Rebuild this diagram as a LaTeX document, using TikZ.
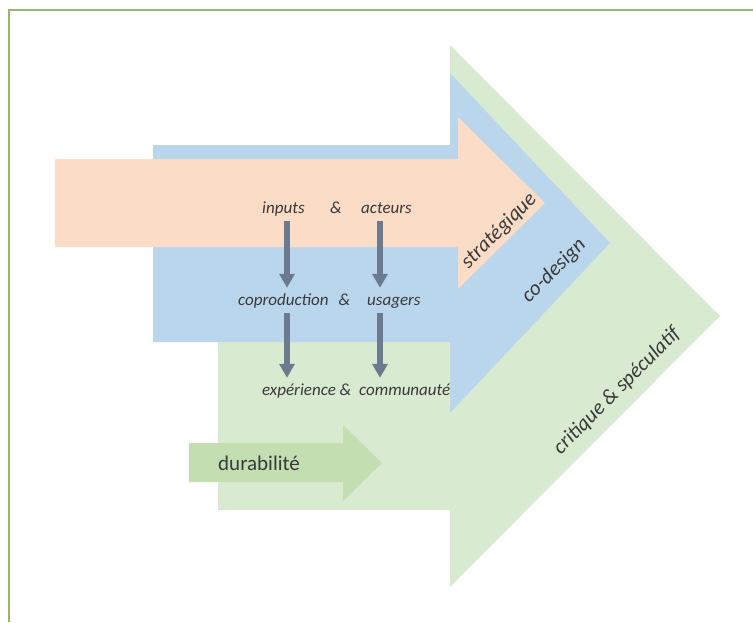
\documentclass[tikz,border=0pt]{standalone}
\usepackage{fontspec}
\setmainfont{Carlito}
\usepackage{xcolor}
\usepackage{tikz}
\usetikzlibrary{arrows.meta, positioning, calc}
\definecolor{salmon}{HTML}{FBDCC6}
\definecolor{skyblue}{HTML}{BAD6EC}
\definecolor{palegreen}{HTML}{D8EACF}
\definecolor{leafgreen}{HTML}{C3DEB1}
\definecolor{slate}{HTML}{6B7A8F}
\definecolor{inkgray}{HTML}{3A3A3A}
\definecolor{framegreen}{HTML}{93B874}

\begin{document}
\begin{tikzpicture}[x=1pt, y=-1pt,
    label/.style={inner sep=0pt, anchor=base west, text=inkgray, text height=12pt, text depth=4pt,
      font=\fontsize{17}{20}\selectfont\itshape},
    stage/.style={inner sep=0pt, rotate=45, text=inkgray, font=\fontsize{21}{24}\selectfont\itshape},
    flow/.style={slate, line width=5.5pt, -{Triangle[width=15pt, length=14pt]},
      shorten <=4pt, shorten >=5pt}]
  \useasboundingbox (0,0) rectangle (753,622);

  % Frame
  \draw[framegreen, line width=1.5pt] (9,622) -- (9,10) -- (753,10);

  % Critique arrow
  \fill[palegreen] (218,342) -- (450,342) -- (450,45) -- (720,316)
    -- (450,587) -- (450,510) -- (218,510) -- cycle;

  % Co-design arrow
  \fill[skyblue] (153,145) -- (450,145) -- (450,73) -- (610,243)
    -- (450,413) -- (450,342) -- (153,342) -- cycle;

  % Strategic arrow
  \fill[salmon] (55,159) -- (458,159) -- (458,117) -- (545,203)
    -- (458,289) -- (458,247) -- (55,247) -- cycle;

  % Durability arrow
  \fill[leafgreen] (189,443) -- (343,443) -- (343,425) -- (382,463)
    -- (343,501) -- (343,482) -- (189,482) -- cycle;
  \node[inner sep=0pt, anchor=base west, text=inkgray, font=\fontsize{21}{24}\selectfont]
    (durab) at (218,470) {durabilité};

  % Labels
  \node[label] (inputs) at (262,213) {inputs};
  \node[label] (amp) at (330,213) {\&};
  \node[label] (acteurs) at (361,213) {acteurs};
  \node[label] (copro) at (238,305) {coproduction\hspace{10pt}\&};
  \node[label] (usagers) at (367,305) {usagers};
  \node[label] (exper) at (262,395) {expérience \&};
  \node[label] (commu) at (359,395) {communauté};

  % Stage names
  \node[stage] (strat) at (499,231) {stratégique};
  \node[stage] (codes) at (554,271) {co-design};
  \node[stage] (criti) at (617,391) {critique \& spéculatif};

  % Columns
  \coordinate (colA) at (287,0);
  \coordinate (colB) at (380,0);

  % Flows
  \draw[flow] (inputs.south -| colA) -- (copro.north -| colA);
  \draw[flow] (acteurs.south -| colB) -- (usagers.north -| colB);
  \draw[flow] (copro.south -| colA) -- (exper.north -| colA);
  \draw[flow] (usagers.south -| colB) -- (commu.north -| colB);
\end{tikzpicture}
\end{document}
